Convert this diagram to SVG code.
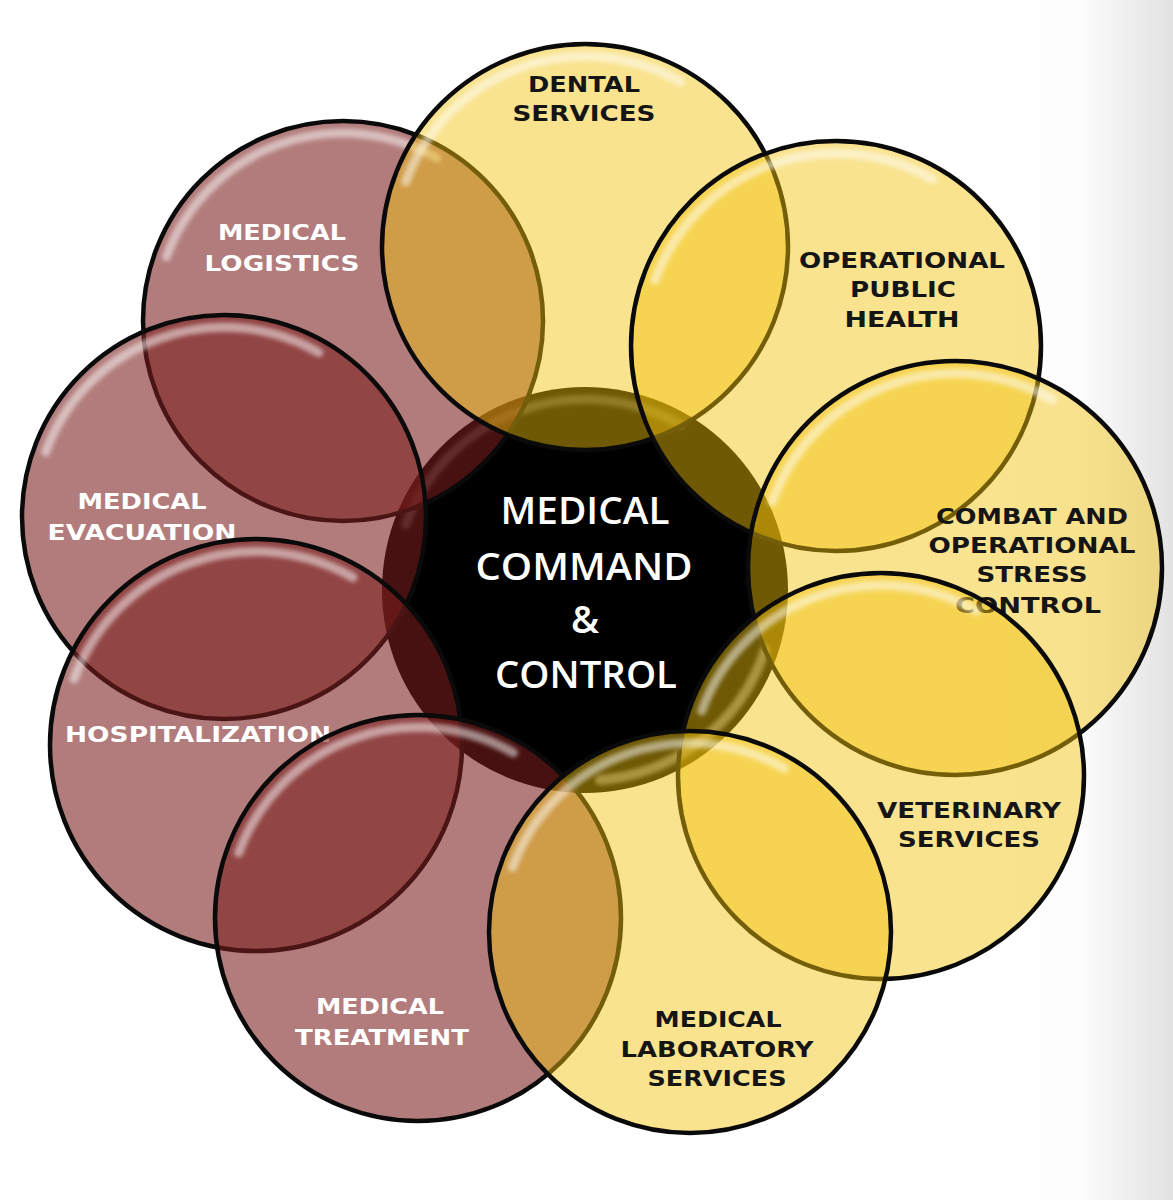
<svg xmlns="http://www.w3.org/2000/svg" width="1173" height="1200" viewBox="0 0 1173 1200">
  <defs>
    <linearGradient id="edge" x1="0" y1="0" x2="1" y2="0">
      <stop offset="0" stop-color="#ffffff"/>
      <stop offset="0.45" stop-color="#fdfdfd"/>
      <stop offset="1" stop-color="#e2e2e2"/>
    </linearGradient>
    <filter id="soft" x="-20%" y="-20%" width="140%" height="140%">
      <feGaussianBlur stdDeviation="2.2"/>
    </filter>
    <path id="gloss" d="M -176.6 -64.3 A 188 188 0 0 1 94 -162.8"/>
    <style>
      .ring { stroke: #0a0a0a; stroke-width: 4.5; }
      .yel { fill: #f2c10b; fill-opacity: 0.46; }
      .mar { fill: #7a1d1d; fill-opacity: 0.58; }
      .hl { fill: none; stroke: #ffffff; stroke-opacity: 0.5; stroke-width: 9; stroke-linecap: round; filter: url(#soft); }
      .lbl { font-family: "DejaVu Sans", "Liberation Sans", sans-serif; font-weight: bold; font-size: 22px; text-anchor: middle; }
      .dk { fill: #151515; }
      .lt { fill: #ffffff; }
      .ctr { font-family: "Open Sans", "Liberation Sans", sans-serif; font-weight: 600; font-size: 38px; fill: #ffffff; text-anchor: middle; }
    </style>
  </defs>

  <rect x="0" y="0" width="1173" height="1200" fill="#ffffff"/>
  <rect x="1000" y="0" width="173" height="1200" fill="url(#edge)"/>

  <g id="connectors"></g>

  <g id="center-node">
    <circle cx="585" cy="590" r="203" fill="#000000"/>
    <use href="#gloss" class="hl" transform="translate(585 590) scale(1.015)" style="stroke-opacity:0.25"/>
    <path d="M 765 650 A 190 190 0 0 1 600 780" fill="none" stroke="#c8c8c8" stroke-opacity="0.55" stroke-width="10" stroke-linecap="round" filter="url(#soft)"/>
  </g>

  <g id="medical-logistics">
    <circle class="mar ring" cx="343" cy="321" r="200"/>
    <use href="#gloss" class="hl" transform="translate(343 321)"/>
    <text class="lbl lt" x="282" y="240" textLength="128" lengthAdjust="spacingAndGlyphs">MEDICAL</text>
    <text class="lbl lt" x="282" y="271" textLength="155" lengthAdjust="spacingAndGlyphs">LOGISTICS</text>
  </g>

  <g id="medical-evacuation">
    <circle class="mar ring" cx="224" cy="517" r="202"/>
    <use href="#gloss" class="hl" transform="translate(224 517) scale(1.01)"/>
    <text class="lbl lt" x="142" y="509" textLength="129" lengthAdjust="spacingAndGlyphs">MEDICAL</text>
    <text class="lbl lt" x="142" y="540" textLength="189" lengthAdjust="spacingAndGlyphs">EVACUATION</text>
  </g>

  <g id="hospitalization">
    <circle class="mar ring" cx="256" cy="745" r="206"/>
    <use href="#gloss" class="hl" transform="translate(256 745) scale(1.03)"/>
    <text class="lbl lt" x="198" y="742" textLength="266" lengthAdjust="spacingAndGlyphs">HOSPITALIZATION</text>
  </g>

  <g id="medical-treatment">
    <circle class="mar ring" cx="418" cy="918" r="203"/>
    <use href="#gloss" class="hl" transform="translate(418 918) scale(1.015)"/>
    <text class="lbl lt" x="380" y="1014" textLength="128" lengthAdjust="spacingAndGlyphs">MEDICAL</text>
    <text class="lbl lt" x="382" y="1045" textLength="174" lengthAdjust="spacingAndGlyphs">TREATMENT</text>
  </g>

  <g id="dental-services">
    <circle class="yel ring" cx="585" cy="247" r="203"/>
    <use href="#gloss" class="hl" transform="translate(585 247) scale(1.015)"/>
    <text class="lbl dk" x="584" y="92" textLength="112" lengthAdjust="spacingAndGlyphs">DENTAL</text>
    <text class="lbl dk" x="584" y="121" textLength="143" lengthAdjust="spacingAndGlyphs">SERVICES</text>
  </g>

  <g id="operational-public-health">
    <circle class="yel ring" cx="836" cy="346" r="205"/>
    <use href="#gloss" class="hl" transform="translate(836 346) scale(1.025)"/>
    <text class="lbl dk" x="902" y="268" textLength="206" lengthAdjust="spacingAndGlyphs">OPERATIONAL</text>
    <text class="lbl dk" x="903" y="297" textLength="106" lengthAdjust="spacingAndGlyphs">PUBLIC</text>
    <text class="lbl dk" x="902" y="327" textLength="115" lengthAdjust="spacingAndGlyphs">HEALTH</text>
  </g>

  <g id="combat-operational-stress-control">
    <circle class="yel ring" cx="955" cy="568" r="207"/>
    <use href="#gloss" class="hl" transform="translate(955 568) scale(1.035)"/>
    <text class="lbl dk" x="1032" y="524" textLength="192" lengthAdjust="spacingAndGlyphs">COMBAT AND</text>
    <text class="lbl dk" x="1032" y="553" textLength="207" lengthAdjust="spacingAndGlyphs">OPERATIONAL</text>
    <text class="lbl dk" x="1032" y="582" textLength="111" lengthAdjust="spacingAndGlyphs">STRESS</text>
    <text class="lbl dk" x="1028" y="613" textLength="146" lengthAdjust="spacingAndGlyphs">CONTROL</text>
  </g>

  <g id="veterinary-services">
    <circle class="yel ring" cx="881" cy="776" r="203"/>
    <use href="#gloss" class="hl" transform="translate(881 776) scale(1.015)"/>
    <text class="lbl dk" x="969" y="818" textLength="184" lengthAdjust="spacingAndGlyphs">VETERINARY</text>
    <text class="lbl dk" x="969" y="847" textLength="142" lengthAdjust="spacingAndGlyphs">SERVICES</text>
  </g>

  <g id="medical-laboratory-services">
    <circle class="yel ring" cx="690" cy="932" r="201"/>
    <use href="#gloss" class="hl" transform="translate(690 932) scale(1.005)"/>
    <text class="lbl dk" x="718" y="1027" textLength="127" lengthAdjust="spacingAndGlyphs">MEDICAL</text>
    <text class="lbl dk" x="717" y="1057" textLength="193" lengthAdjust="spacingAndGlyphs">LABORATORY</text>
    <text class="lbl dk" x="717" y="1086" textLength="139" lengthAdjust="spacingAndGlyphs">SERVICES</text>
  </g>

  <g id="center-label">
    <text class="ctr" x="585" y="524" textLength="169" lengthAdjust="spacingAndGlyphs">MEDICAL</text>
    <text class="ctr" x="584" y="580" textLength="217" lengthAdjust="spacingAndGlyphs">COMMAND</text>
    <text class="ctr" x="585" y="633">&amp;</text>
    <text class="ctr" x="586" y="688" textLength="182" lengthAdjust="spacingAndGlyphs">CONTROL</text>
  </g>
</svg>
